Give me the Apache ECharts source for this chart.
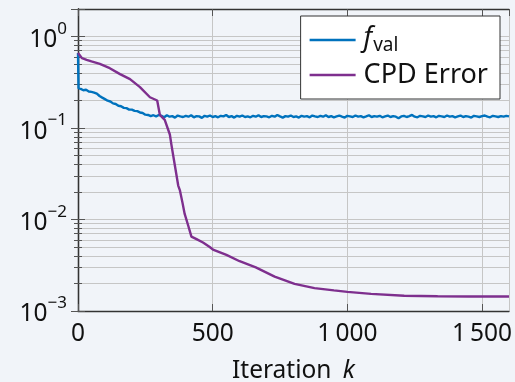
<!DOCTYPE html>
<html>
<head>
<meta charset="utf-8">
<script src="https://cdn.jsdelivr.net/npm/echarts@6/dist/echarts.min.js"></script>
<style>
  html, body {margin: 0; padding: 0; background: #f1f4f9;}
  #chart {width: 515px; height: 382px;}
</style>
</head>
<body>
<div id="chart"></div>
<script>
// f_val: first two samples, then one sample every 10 iterations from 10 to 1600
const fvalIter = [0, 2].concat(Array.from({length: 160}, (_, i) => (i + 1) * 10))
const fvalVals = [
  0.66, 0.273,
  0.268, 0.259, 0.262, 0.251, 0.248, 0.244, 0.238, 0.224, 0.215, 0.207,
  0.199, 0.195, 0.186, 0.183, 0.175, 0.173, 0.166, 0.165, 0.159, 0.159,
  0.154, 0.153, 0.148, 0.146, 0.140, 0.139, 0.135, 0.138, 0.134, 0.139,
  0.136, 0.131, 0.138, 0.133, 0.135, 0.130, 0.137, 0.134, 0.132, 0.136,
  0.133, 0.138, 0.131, 0.135, 0.134, 0.129, 0.136, 0.133, 0.137, 0.132,
  0.135, 0.131, 0.136, 0.134, 0.139, 0.132, 0.135, 0.130, 0.136, 0.133,
  0.137, 0.132, 0.134, 0.131, 0.136, 0.133, 0.138, 0.132, 0.135, 0.134,
  0.131, 0.136, 0.133, 0.139, 0.134, 0.130, 0.135, 0.133, 0.137, 0.132,
  0.134, 0.130, 0.136, 0.133, 0.135, 0.131, 0.137, 0.134, 0.132, 0.136,
  0.133, 0.138, 0.132, 0.135, 0.131, 0.134, 0.137, 0.133, 0.130, 0.136,
  0.134, 0.132, 0.137, 0.133, 0.135, 0.131, 0.134, 0.138, 0.132, 0.135,
  0.133, 0.136, 0.131, 0.134, 0.137, 0.132, 0.135, 0.133, 0.128, 0.134,
  0.136, 0.132, 0.135, 0.139, 0.133, 0.131, 0.136, 0.134, 0.132, 0.137,
  0.133, 0.135, 0.131, 0.136, 0.134, 0.132, 0.137, 0.133, 0.135, 0.131,
  0.134, 0.137, 0.132, 0.135, 0.133, 0.130, 0.136, 0.134, 0.132, 0.135,
  0.137, 0.133, 0.131, 0.136, 0.134, 0.132, 0.135, 0.133, 0.136, 0.134
]

const cpdIter = [
  0, 15, 32, 50, 81, 118, 156, 193, 230, 267, 294, 301,
  304, 322, 341, 347, 359, 372, 378, 388, 396, 409, 421,
  440, 464, 489, 501, 551, 600, 660, 730, 804, 878, 950,
  1000, 1088, 1211, 1335, 1450, 1600
]
const cpdVals = [
  0.66, 0.58, 0.556, 0.535, 0.503, 0.451, 0.388, 0.342, 0.28, 0.217, 0.20, 0.198,
  0.139, 0.123, 0.085, 0.065, 0.040, 0.0235, 0.021, 0.0152, 0.0115, 0.0086, 0.0065,
  0.0061, 0.0056, 0.0050, 0.0047, 0.0041, 0.0035, 0.0030, 0.00238, 0.00198, 0.00178, 0.00168,
  0.00162, 0.00154, 0.00147, 0.00145, 0.00144, 0.00144
]

const seriesNames = ['fval', 'CPD Error']
const colors = ['#0072BD', '#7E2F8E']
const xTicks = [0, 500, 1000, 1500]

const font = 'Noto Sans'
const zip = (xs, ys) => xs.map((x, i) => [x, ys[i]])

const yLabel = (v) => {
  const e = Math.round(Math.log10(v))
  if (Math.abs(v - Math.pow(10, e)) / v > 1e-6) return ''
  return '{b|10}{s|' + (e < 0 ? '\u2212' + (-e) : e) + '}'
}
const xLabel = (v) => {
  if (xTicks.indexOf(v) < 0) return ''
  return v >= 1000 ? String(v).replace(/(\d)(\d{3})$/, '$1\u2009$2') : String(v)
}

const gridColor = '#c6c6c6'
const tickColor = '#555'
const frame = {show: true, lineStyle: {color: '#333', width: 1.3}}

const yBase = {
  type: 'log', logBase: 10, min: 1e-3, max: 2,
  axisLine: frame,
  axisTick: {show: true, inside: true, length: 7, lineStyle: {color: tickColor}},
  minorTick: {show: true, splitNumber: 9, length: 4, lineStyle: {color: tickColor}},
}
const xBase = {
  type: 'value', min: 0, max: 1600, interval: 500,
  axisLine: frame,
  axisTick: {show: true, inside: true, length: 7, lineStyle: {color: tickColor}},
}

const chart = echarts.init(document.getElementById('chart'))
chart.setOption({
  backgroundColor: '#f1f4f9',
  animation: false,
  textStyle: {fontFamily: font, color: '#111'},
  grid: {left: 78, right: 6, top: 9, bottom: 71, outerBoundsMode: 'none', containLabel: false},
  legend: {
    right: 15, top: 16,
    orient: 'vertical',
    backgroundColor: '#fff',
    borderColor: '#333', borderWidth: 1,
    padding: [9, 12, 9, 9],
    icon: 'rect',
    itemWidth: 46, itemHeight: 2.5, itemGap: 5,
    data: seriesNames,
    formatter: (name) => name === 'fval' ? '{i|f}{sub|val}' : name,
    textStyle: {
      fontFamily: font, fontSize: 27, color: '#111', lineHeight: 30,
      padding: [0, 0, 0, 3],
      rich: {
        i: {fontFamily: font, fontSize: 27, fontStyle: 'italic', lineHeight: 30, verticalAlign: 'top'},
        sub: {fontFamily: font, fontSize: 19, lineHeight: 28, verticalAlign: 'bottom', padding: [0, 0, 0, 1]}
      }
    }
  },
  xAxis: [
    Object.assign({}, xBase, {
      position: 'bottom',
      splitLine: {show: true, lineStyle: {color: gridColor, width: 1}},
      axisLabel: {
        show: true, margin: 11, fontFamily: font, fontSize: 24.5, color: '#111',
        showMaxLabel: false, formatter: xLabel
      },
      name: 'Iteration {k|k}',
      nameLocation: 'middle', nameGap: 48,
      nameTextStyle: {
        fontFamily: font, fontSize: 24.5, color: '#111',
        rich: {k: {fontFamily: font, fontSize: 24.5, fontStyle: 'italic', padding: [0, 0, 0, 5]}}
      }
    }),
    Object.assign({}, xBase, {
      position: 'top',
      splitLine: {show: false},
      axisLabel: {show: false}
    })
  ],
  yAxis: [
    Object.assign({}, yBase, {
      position: 'left',
      splitLine: {show: true, lineStyle: {color: gridColor, width: 1}},
      minorSplitLine: {show: true, lineStyle: {color: gridColor, width: 1}},
      axisLabel: {
        show: true, margin: 11, formatter: yLabel,
        showMaxLabel: false,
        rich: {
          b: {fontFamily: font, fontSize: 24.5, color: '#111', lineHeight: 32, verticalAlign: 'bottom'},
          s: {fontFamily: font, fontSize: 17, color: '#111', lineHeight: 17, verticalAlign: 'top'}
        }
      }
    }),
    Object.assign({}, yBase, {
      position: 'right',
      splitLine: {show: false},
      minorSplitLine: {show: false},
      axisLabel: {show: false}
    })
  ],
  series: [
    {
      name: seriesNames[0], type: 'line', xAxisIndex: 0, yAxisIndex: 0,
      data: zip(fvalIter, fvalVals),
      symbol: 'none', color: colors[0],
      lineStyle: {width: 2.4, color: colors[0]}
    },
    {
      name: seriesNames[1], type: 'line', xAxisIndex: 0, yAxisIndex: 0,
      data: zip(cpdIter, cpdVals),
      symbol: 'none', color: colors[1],
      lineStyle: {width: 2.4, color: colors[1]}
    }
  ]
})
</script>
</body>
</html>
